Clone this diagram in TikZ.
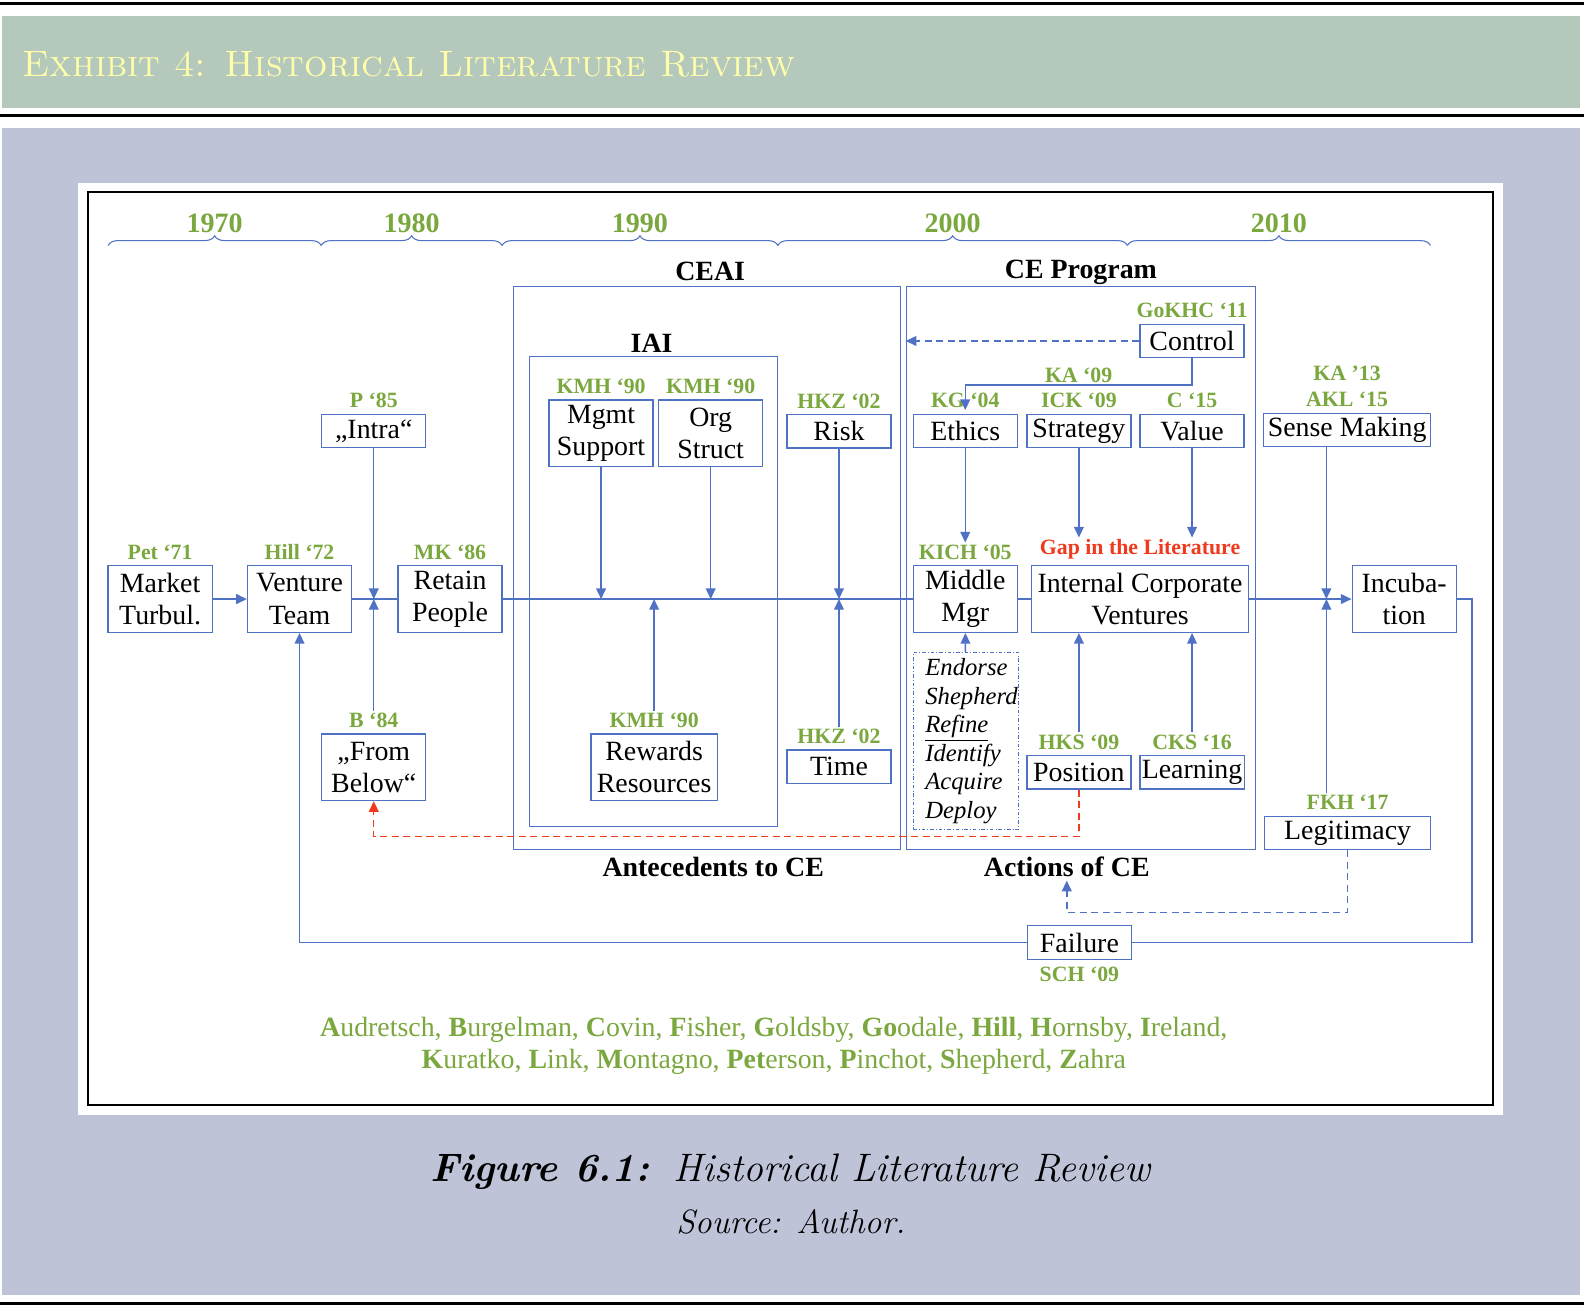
\documentclass[tikz,border=0pt]{standalone}
\usepackage{fontspec}
\newfontfamily\tnr{Liberation Serif}
\usetikzlibrary{arrows.meta,positioning,decorations.pathreplacing}

\definecolor{lineblue}{RGB}{80,114,196}
\definecolor{refgreen}{RGB}{123,168,62}
\definecolor{gapred}{RGB}{240,58,30}
\definecolor{bandgreen}{RGB}{181,200,188}
\definecolor{bandblue}{RGB}{190,195,216}
\definecolor{titleyellow}{RGB}{255,255,170}

\newcommand\boxfont{\tnr\fontsize{15.7pt}{18.1pt}\selectfont}
\newcommand\reffont{\tnr\bfseries\fontsize{12.3pt}{14.7pt}\selectfont}

\tikzset{
  box/.style={draw=lineblue, line width=0.7pt, fill=white, font=\boxfont, align=center,
    inner sep=1pt, minimum width=2.06cm, minimum height=0.66cm},
  twoline/.style={minimum height=1.32cm},
  ref/.style={text=refgreen, font=\reffont, inner sep=1pt, align=center},
  grp/.style={draw=lineblue, line width=0.6pt, inner sep=0pt},
  grptitle/.style={font=\tnr\bfseries\fontsize{15.7pt}{18pt}\selectfont, inner sep=2pt},
  link/.style={draw=lineblue, line width=0.8pt},
  arr/.style={link, -{Triangle[length=6pt, width=5.5pt]}},
  dasharr/.style={arr, dash pattern=on 4pt off 2.5pt},
  redarr/.style={draw=gapred, line width=0.8pt, dash pattern=on 4pt off 2.5pt,
    -{Triangle[length=6pt, width=5.5pt]}},
  decade/.style={draw=lineblue, line width=0.6pt, decorate, decoration={brace, amplitude=5.5pt}},
  year/.style={text=refgreen, font=\tnr\bfseries\fontsize{15.8pt}{18pt}\selectfont, inner sep=0pt},
}

\begin{document}
\begin{tikzpicture}[x=0.02cm, y=-0.02cm]
  \useasboundingbox (0,0) rectangle (1568,1296);

  % frame of the exhibit
  \draw[line width=1.7pt] (0,3) -- (1568,3);
  \fill[bandgreen] (2,16) rectangle (1564,107);
  \node[anchor=west, text=titleyellow, inner sep=0pt] (exhibit) at (22,64)
    {\fontsize{20.74pt}{25pt}\selectfont\textsc{Exhibit 4: Historical Literature Review}};
  \draw[line width=1.7pt] (0,114) -- (1568,114);
  \fill[bandblue] (2,127) rectangle (1564,1282);
  \draw[line width=1.7pt] (0,1290) -- (1568,1290);
  \fill[white] (77,181) rectangle (1488,1104);
  \draw[line width=0.8pt] (87,190) rectangle (1478,1094);

  % decades
  \foreach \a/\b/\yr in {107/318/1970, 318/497/1980, 497/770/1990, 770/1116/2000, 1116/1416/2010}
    \draw[decade] (\a,243) -- (\b,243) node[year, midway, above=7pt] {\yr};

  % groups
  \node[grp, minimum width=7.66cm, minimum height=11.14cm] (ceai) at (699.5,562.5) {};
  \node[grp, minimum width=4.92cm, minimum height=9.3cm] (iai) at (647,585.5) {};
  \node[grp, minimum width=6.92cm, minimum height=11.14cm] (cep) at (1070,562.5) {};
  \node[grptitle] (ceaiT) at (703,269) {CEAI};
  \node[grptitle] (iaiT) at (645,340) {IAI};
  \node[grptitle] (cepT) at (1070,270) {CE Program};
  \node[grptitle] (antT) at (706,858) {Antecedents to CE};
  \node[grptitle] (actT) at (1056,858) {Actions of CE};

  % boxes
  \node[box, twoline] (mt) at (158.5,593) {Market\\Turbul.};
  \node[box, twoline] (vt) at (296.5,593) {Venture\\Team};
  \node[box, twoline] (rp) at (445.5,593) {Retain\\People};
  \node[box] (intra) at (370,426.5) {„Intra“};
  \node[box, twoline] (fb) at (370,759.5) {„From\\Below“};
  \node[box, twoline] (mgmt) at (595,429) {Mgmt\\Support};
  \node[box, twoline] (org) at (703.5,429) {Org\\Struct};
  \node[box, twoline, minimum width=2.5cm] (rew) at (647.5,759.5) {Rewards\\Resources};
  \node[box] (risk) at (830.5,427) {Risk};
  \node[box] (time) at (830.5,759) {Time};
  \node[box] (ctrl) at (1180,337.5) {Control};
  \node[box] (eth) at (955.5,426.5) {Ethics};
  \node[box] (strat) at (1068,426.5) {Strategy};
  \node[box] (val) at (1180,426.5) {Value};
  \node[box, minimum width=3.3cm] (sense) at (1333.5,425.5) {Sense Making};
  \node[box, twoline] (mm) at (955.5,593) {Middle\\Mgr};
  \node[box, twoline, minimum width=4.3cm] (icv) at (1128.5,593) {Internal Corporate\\Ventures};
  \node[draw=lineblue, line width=0.5pt, dash pattern=on 2pt off 1.2pt on 0.4pt off 1.2pt,
    text width=1.6cm, inner xsep=0.24cm, minimum height=3.46cm, align=left,
    font=\tnr\itshape\fontsize{13.9pt}{16.1pt}\selectfont] (endo) at (956,733.5)
    {Endorse\\Shepherd\\\underline{Refine}\\Identify\\Acquire\\Deploy};
  \node[box] (pos) at (1068,764.5) {Position};
  \node[box] (learn) at (1180,764.5) {Learning};
  \node[box, twoline] (incub) at (1390,593) {Incuba-\\tion};
  \node[box, minimum width=3.28cm] (legit) at (1334,824.5) {Legitimacy};
  \node[box] (fail) at (1068.5,933) {Failure};

  % references
  \node[ref, above=2pt of mt] (mtL) {Pet ‘71};
  \node[ref, above=2pt of vt] (vtL) {Hill ‘72};
  \node[ref, above=2pt of rp] (rpL) {MK ‘86};
  \node[ref, above=2pt of intra] (intraL) {P ‘85};
  \node[ref, above=2pt of fb] (fbL) {B ‘84};
  \node[ref, above=2pt of mgmt] (mgmtL) {KMH ‘90};
  \node[ref, above=2pt of org] (orgL) {KMH ‘90};
  \node[ref, above=2pt of rew] (rewL) {KMH ‘90};
  \node[ref, above=2pt of risk] (riskL) {HKZ ‘02};
  \node[ref, above=2pt of time] (timeL) {HKZ ‘02};
  \node[ref, above=2pt of ctrl] (ctrlL) {GoKHC ‘11};
  \node[ref, above=2pt of eth] (ethL) {KG ‘04};
  \node[ref, above=2pt of strat] (stratL) {ICK ‘09};
  \node[ref, above=2pt of val] (valL) {C ‘15};
  \node[ref, above=2pt of sense] (senseL) {KA ’13\\AKL ‘15};
  \node[ref, above=2pt of mm] (mmL) {KICH ‘05};
  \node[ref, above=2pt of icv, text=gapred] (gapL) {Gap in the Literature};
  \node[ref, above=2pt of pos] (posL) {HKS ‘09};
  \node[ref, above=2pt of learn] (learnL) {CKS ‘16};
  \node[ref, above=2pt of legit] (legitL) {FKH ‘17};
  \node[ref, below=3pt of fail] (failL) {SCH ‘09};

  % main line
  \coordinate (ml) at (0,593);
  \draw[arr] (mt) -- (vt);
  \draw[link] (vt) -- (rp);
  \draw[link] (rp) -- (mm);
  \draw[link] (mm) -- (icv);
  \draw[arr] (icv) -- (incub);

  % influences
  \draw[arr] (intra) -- (intra |- ml);
  \draw[arr] (fbL) -- (fbL |- ml);
  \draw[arr] (mgmt) -- (mgmt |- ml);
  \draw[arr] (org) -- (org |- ml);
  \draw[arr] (rewL) -- (rewL |- ml);
  \draw[arr] (risk) -- (risk |- ml);
  \draw[arr] (timeL) -- (timeL |- ml);
  \draw[arr] (eth) -- (mmL);
  \draw[arr] (strat) -- (strat |- gapL.north);
  \draw[arr] (val) -- (val |- gapL.north);
  \draw[arr] (endo) -- (mm);
  \draw[arr] (posL) -- (posL |- icv.south);
  \draw[arr] (learnL) -- (learnL |- icv.south);
  \coordinate (smj) at (1313,593);
  \draw[arr] (sense.south -| smj) -- (smj);
  \draw[arr] (legitL.north -| smj) -- (smj);

  % control
  \coordinate (katurn) at (955.5,381);
  \draw[arr] (ctrl) |- node[ref, pos=0.75, above] (kaL) {KA ‘09} (katurn) -- (ethL.south -| katurn);
  \draw[dasharr] (ctrl) -- (ctrl.west -| cep.west);

  % feedback
  \coordinate (redturn) at (1068,828);
  \draw[redarr] (pos) -- (redturn) -| (fb);
  \coordinate (legturn) at (1334,903);
  \draw[dasharr] (legit) -- (legturn) -| (actT);
  \coordinate (loopR) at (1457,593);
  \draw[link] (incub) -- (loopR) |- (fail);
  \draw[arr] (fail) -| (vt);

  % authors
  \node[text=refgreen, align=center, font=\tnr\fontsize{15.7pt}{18.1pt}\selectfont] (authors) at (766,1035)
    {\textbf{A}udretsch, \textbf{B}urgelman, \textbf{C}ovin, \textbf{F}isher, \textbf{G}oldsby, \textbf{Go}odale, \textbf{Hill}, \textbf{H}ornsby, \textbf{I}reland,\\
     \textbf{K}uratko, \textbf{L}ink, \textbf{M}ontagno, \textbf{Pet}erson, \textbf{P}inchot, \textbf{S}hepherd, \textbf{Z}ahra};

  % caption
  \node (capt) at (783,1160) {\fontsize{22.4pt}{27pt}\selectfont\textbf{\textit{Figure 6.1:}}\ \ \textit{Historical Literature Review}};
  \node (src) at (783,1209) {\fontsize{19pt}{23pt}\selectfont\textit{Source: Author.}};
\end{tikzpicture}
\end{document}
